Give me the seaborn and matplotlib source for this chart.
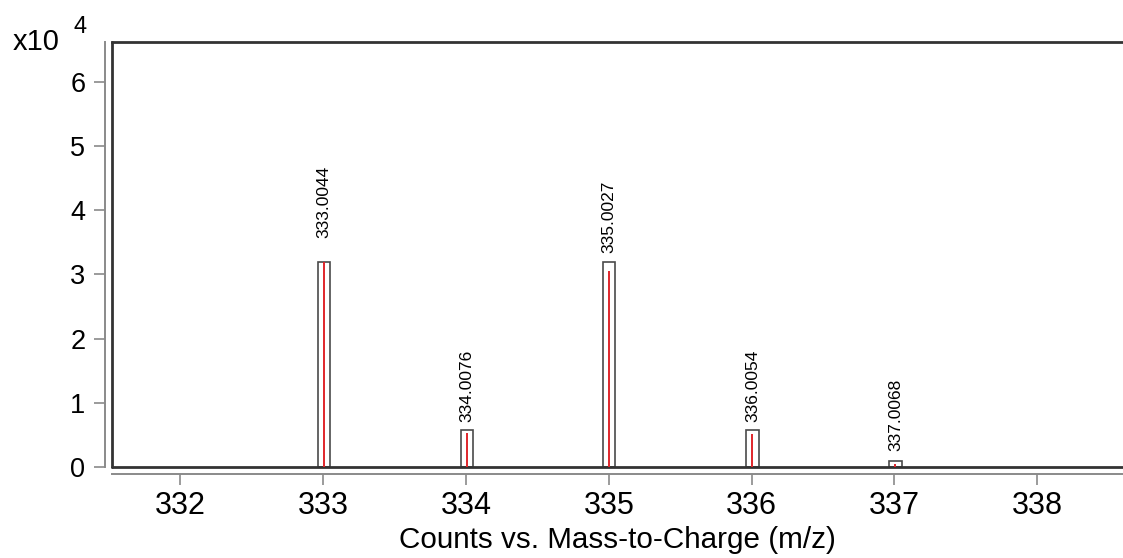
import matplotlib
matplotlib.use("Agg")
import matplotlib.pyplot as plt
import seaborn as sns

# peak data (counts in units of 1e4)
mz = [333.0044, 334.0076, 335.0027, 336.0054, 337.0068]
box_height = [3.20, 0.58, 3.19, 0.58, 0.10]
red_height = [3.20, 0.53, 3.05, 0.52, 0.05]
label_y = [3.57, 0.70, 3.33, 0.71, 0.26]
peak_labels = ["333.0044", "334.0076", "335.0027", "336.0054", "337.0068"]

x_ticks = [332, 333, 334, 335, 336, 337, 338]
y_ticks = [0, 1, 2, 3, 4, 5, 6]

sns.set_style("white")
plt.rcParams['font.family'] = ['Liberation Sans', 'DejaVu Sans']
plt.rcParams['text.color'] = 'black'
plt.rcParams['axes.labelcolor'] = 'black'

fig = plt.figure(figsize=(11.23, 5.58), dpi=100)
ax = fig.add_axes([0.0995, 0.1625, 0.9005, 0.7628])

# boxes = isotope pattern, red lines = measured peaks
sns.barplot(x=mz, y=box_height, native_scale=True, fill=False, color="#4a4a4a",
            width=0.088, linewidth=1.2, errorbar=None, ax=ax)
ax.vlines(mz, 0, red_height, color="#e0262b", linewidth=1.4, zorder=3)

for x, y, t in zip(mz, label_y, peak_labels):
    ax.text(x, y, t, rotation=90, ha="center", va="bottom", fontsize=12.5, color="black")

ax.set_xlim(331.52, 338.6)
ax.set_ylim(0, 6.62)
ax.set_xticks(x_ticks)
ax.set_xticklabels([str(t) for t in x_ticks])
ax.set_yticks(y_ticks)
ax.set_yticklabels([str(t) for t in y_ticks])

# gray offset axes
for side in ["left", "bottom"]:
    ax.spines[side].set_position(("outward", 5))
    ax.spines[side].set_color("#8a8a8a")
    ax.spines[side].set_linewidth(1.4)
ax.spines["right"].set_visible(False)
ax.spines["top"].set_color("#333333")
ax.spines["top"].set_linewidth(2)

# black frame lines
ax.plot([0, 0], [0, 1], transform=ax.transAxes, color="#333333", lw=2, clip_on=False)
ax.plot([0, 1], [0, 0], transform=ax.transAxes, color="#333333", lw=2, clip_on=False)

ax.tick_params(axis="both", direction="out", length=8, width=1.2, color="#8a8a8a",
               labelcolor="black", bottom=True, left=True)
ax.tick_params(axis="x", labelsize=22, pad=4)
ax.tick_params(axis="y", labelsize=19.5, pad=6)
ax.set_xlabel("Counts vs. Mass-to-Charge (m/z)", fontsize=21.3, labelpad=4)
ax.set_ylabel("")

fig.text(13 / 1123, 1 - 50 / 558, "x10", fontsize=21, ha="left", va="baseline")
fig.text(73 / 1123, 1 - 33 / 558, "4", fontsize=17, ha="left", va="baseline")

fig.savefig("out.png", dpi=100)
